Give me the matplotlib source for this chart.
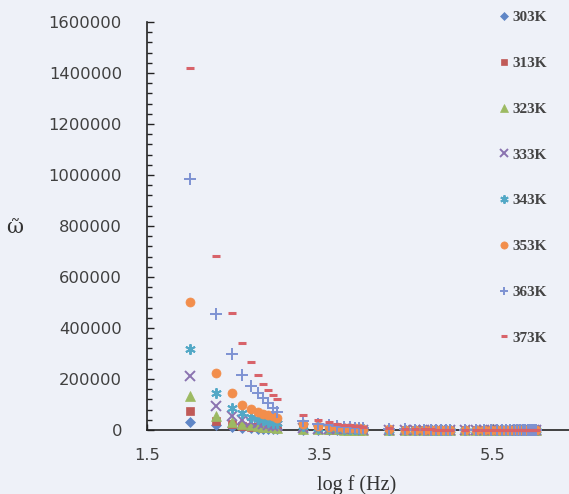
import numpy as np
import matplotlib.pyplot as plt

# frequencies (Hz): 100..1000, 2k..10k, 20k..100k, 150k..1M
freq = [100, 200, 300, 400, 500, 600, 700, 800, 900, 1000,
        2000, 3000, 4000, 5000, 6000, 7000, 8000, 9000, 10000,
        20000, 30000, 40000, 50000, 60000, 70000, 80000, 90000, 100000,
        150000, 200000, 250000, 300000, 350000, 400000, 450000, 500000, 550000,
        600000, 650000, 700000, 750000, 800000, 850000, 900000, 950000, 1000000]

w_303 = [31000, 18000, 11000, 8000, 6500, 5500, 4500, 4000, 3500, 3000,
         1600, 1100, 850, 700, 600, 500, 450, 400, 360,
         180, 120, 90, 75, 62, 54, 47, 42, 38,
         26, 20, 16, 13, 11, 10, 9, 8, 7, 7, 6, 6, 5, 5, 5, 4, 4, 4]
w_313 = [76000, 36000, 22000, 16000, 12000, 10000, 8500, 7500, 6500, 6000,
         3200, 2200, 1700, 1400, 1100, 1000, 900, 800, 700,
         360, 240, 180, 150, 125, 108, 95, 84, 76,
         52, 40, 32, 27, 23, 20, 18, 16, 15, 14, 13, 12, 11, 10, 10, 9, 9, 8]
w_323 = [135000, 55000, 33000, 24000, 19000, 16000, 13000, 11000, 10000, 9000,
         5000, 3500, 2700, 2200, 1800, 1600, 1400, 1300, 1200,
         600, 400, 300, 240, 200, 175, 155, 138, 125,
         85, 65, 52, 44, 38, 33, 30, 27, 25, 23, 21, 20, 18, 17, 16, 15, 15, 14]
w_333 = [213000, 94000, 55000, 40000, 32000, 26000, 22000, 19000, 17000, 15000,
         8000, 5500, 4200, 3400, 2900, 2500, 2200, 2000, 1800,
         950, 640, 480, 390, 330, 285, 250, 222, 200,
         135, 102, 82, 68, 59, 52, 46, 41, 38, 35, 32, 30, 28, 26, 25, 24, 22, 21]
w_343 = [318000, 145000, 87000, 66000, 52000, 44000, 38000, 33000, 29000, 26000,
         14000, 9500, 7500, 6000, 5000, 4400, 3900, 3500, 3200,
         1650, 1100, 830, 670, 560, 480, 420, 375, 340,
         230, 175, 140, 117, 100, 88, 78, 70, 64, 59, 54, 50, 47, 44, 42, 39, 37, 35]
w_353 = [502000, 224000, 145000, 100000, 84000, 72000, 64000, 58000, 53000, 49000,
         24000, 16000, 12000, 10000, 8500, 7500, 6500, 6000, 5500,
         2800, 1900, 1450, 1150, 960, 830, 730, 650, 580,
         390, 295, 236, 197, 170, 148, 132, 119, 108, 99, 92, 85, 80, 75, 70, 66, 63, 60]
w_363 = [984000, 455000, 298000, 216000, 173000, 145000, 125000, 106000, 86000, 71000,
         36000, 25000, 19000, 15000, 12500, 11000, 9500, 8500, 7500,
         3800, 2550, 1900, 1520, 1270, 1090, 950, 850, 760,
         510, 385, 308, 257, 220, 193, 171, 154, 140, 128, 118, 110, 103, 96, 91, 86, 81, 77]
w_373 = [1420000, 682000, 459000, 341000, 267000, 216000, 180000, 157000, 137000, 122000,
         58000, 40000, 31000, 25000, 21000, 18000, 16000, 14000, 12500,
         6200, 4200, 3200, 2600, 2200, 1900, 1600, 1450, 1300,
         900, 680, 550, 460, 400, 350, 310, 280, 255, 235, 215, 200, 190, 180, 170, 160, 150, 140]

labels = ['303K', '313K', '323K', '333K', '343K', '353K', '363K', '373K']


def main():
    logf = np.log10(freq)
    series = [w_303, w_313, w_323, w_333, w_343, w_353, w_363, w_373]
    colors = ['#5f86c6', '#c05a57', '#9cba62', '#8a73b0', '#52a8c6', '#f28e4c', '#7d92d2', '#d8636a']
    markers = ['D', 's', '^', 'x', (6, 2, 0), 'o', '+', '_']
    sizes = [5.5, 6, 6.5, 7, 7.5, 6.5, 8, 5.5]

    bg = '#eef1f8'
    fig = plt.figure(figsize=(5.69, 4.94), dpi=100, facecolor=bg)
    ax = fig.add_axes([147 / 569, 64 / 494, 1 - 147 / 569, (430 - 22) / 494])
    ax.set_facecolor(bg)

    for y, c, m, s, lab in zip(series, colors, markers, sizes, labels):
        mew = 1.4 if m in ('x', '+', (6, 2, 0)) else (2.2 if m == '_' else 0.5)
        ax.plot(logf, y, linestyle='none', marker=m, ms=s, color=c, mec=c, mew=mew,
                label=lab, clip_on=False, zorder=3)

    ax.set_xlim(1.5, 1.5 + (569 - 147) / 86.5)
    ax.set_ylim(0, 1600000)
    ax.set_xticks([1.5, 3.5, 5.5])
    ax.set_xticklabels(['1.5', '3.5', '5.5'])
    ax.set_yticks(np.arange(0, 1600001, 200000))
    ax.set_yticks(np.arange(0, 1600001, 40000), minor=True)
    ax.yaxis.set_major_formatter(plt.FuncFormatter(lambda v, p: '%d' % v))

    for sp in ['top', 'right']:
        ax.spines[sp].set_visible(False)
    for sp in ['left', 'bottom']:
        ax.spines[sp].set_color('#222222')
        ax.spines[sp].set_linewidth(1.2)

    ax.tick_params(axis='y', which='major', direction='in', length=5, width=1, pad=18,
                   labelsize=11.8, labelcolor='#404040', color='#222222')
    ax.tick_params(axis='y', which='minor', direction='in', length=3.5, width=1, color='#222222')
    ax.tick_params(axis='x', which='major', direction='in', length=4, width=1, pad=13,
                   labelsize=11.8, labelcolor='#404040', color='#222222')

    fig.text(357 / 569, 1 - 485 / 494, 'log f (Hz)', ha='center', va='center',
             family='Liberation Serif', fontsize=14.5, color='#333333')
    fig.text(15 / 569, 1 - 227 / 494, '\u1ff6', ha='center', va='center',
             family='DejaVu Serif', fontsize=15, color='#333333')

    leg = ax.legend(loc='upper left', bbox_to_anchor=(491 / 569, 1 - 3 / 494),
                    bbox_transform=fig.transFigure, frameon=False, handlelength=0.7,
                    handletextpad=0.2, labelspacing=2.1, borderpad=0, markerscale=0.8,
                    prop={'family': 'Liberation Serif', 'size': 11, 'weight': 'bold'})
    for t in leg.get_texts():
        t.set_color('#444444')

    fig.savefig('out.png', dpi=100, facecolor=bg)


if __name__ == '__main__':
    main()
